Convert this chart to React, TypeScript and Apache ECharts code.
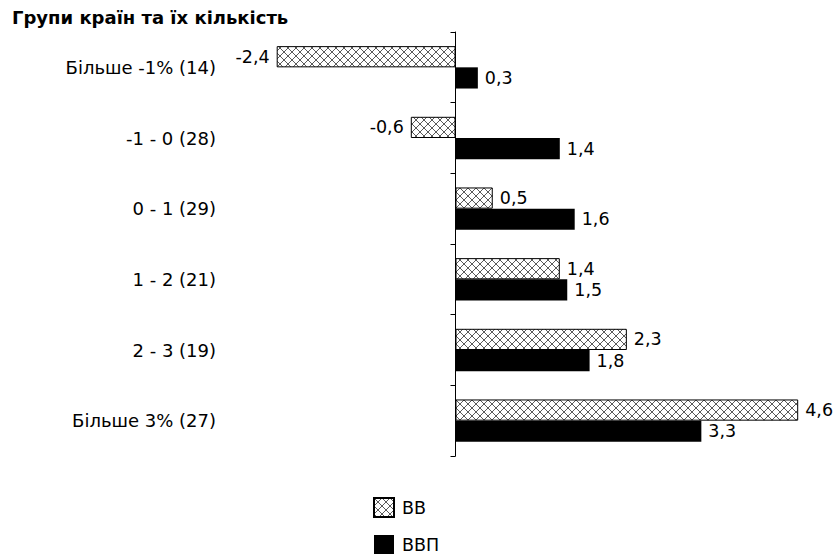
import React, { useEffect, useRef } from "react";
import * as echarts from "echarts";

const categories = ["Більше -1% (14)", "-1 - 0 (28)", "0 - 1 (29)", "1 - 2 (21)", "2 - 3 (19)", "Більше 3% (27)"];
const seriesNames = ["ВВ", "ВВП"];
const valuesVV = [-2.4, -0.6, 0.5, 1.4, 2.3, 4.6];
const valuesVVP = [0.3, 1.4, 1.6, 1.5, 1.8, 3.3];
const titleText = "Групи країн та їх кількість";

function makeHatch(): HTMLCanvasElement {
  const c = document.createElement("canvas");
  c.width = 8;
  c.height = 8;
  const ctx = c.getContext("2d")!;
  ctx.fillStyle = "#ffffff";
  ctx.fillRect(0, 0, 8, 8);
  ctx.strokeStyle = "#5a5a5a";
  ctx.lineWidth = 1;
  ctx.beginPath();
  ctx.moveTo(0, 0);
  ctx.lineTo(8, 8);
  ctx.moveTo(8, 0);
  ctx.lineTo(0, 8);
  ctx.stroke();
  return c;
}

const fmt = (p: any) => String(p.value).replace(".", ",");

const toData = (vals: number[]) =>
  vals.map((v) => ({ value: v, label: { position: v < 0 ? "left" : "right" } }));

export default function App() {
  const ref = useRef<HTMLDivElement>(null);
  useEffect(() => {
    document.body.style.margin = "0";
    if (!ref.current) return;
    const chart = echarts.init(ref.current, null, { renderer: "svg" });
    const hatch = makeHatch();
    const font = "DejaVu Sans, sans-serif";
    chart.setOption({
      animation: false,
      backgroundColor: "#ffffff",
      textStyle: { fontFamily: font },
      title: {
        text: titleText,
        left: 12,
        top: 8,
        padding: 0,
        textStyle: { fontSize: 18, fontWeight: "bold", color: "#000", fontFamily: font },
      },
      legend: {
        orient: "vertical",
        left: 373,
        top: 497,
        padding: 0,
        itemWidth: 20,
        itemHeight: 19,
        itemGap: 17,
        icon: "rect",
        textStyle: { fontSize: 17.5, color: "#000", fontFamily: font, padding: [0, 0, 0, 3] },
        data: seriesNames,
      },
      grid: { left: 232, right: 9, top: 32, bottom: 98, containLabel: false },
      xAxis: {
        type: "value",
        min: -3,
        max: 5,
        show: false,
        splitLine: { show: false },
      },
      yAxis: [
        {
          type: "category",
          data: categories,
          inverse: true,
          position: "left",
          axisLine: { show: false, onZero: false },
          axisTick: { show: false },
          axisLabel: { fontSize: 18, color: "#000", margin: 16, fontFamily: font },
        },
        {
          type: "category",
          data: categories,
          inverse: true,
          position: "left",
          axisLine: { show: true, onZero: true, lineStyle: { color: "#000", width: 1 } },
          axisTick: { show: true, length: 5, lineStyle: { color: "#000" } },
          axisLabel: { show: false },
        },
      ],
      series: [
        {
          name: seriesNames[0],
          type: "bar",
          yAxisIndex: 0,
          data: toData(valuesVV),
          barGap: "0%",
          barCategoryGap: "40%",
          itemStyle: {
            color: { image: hatch, repeat: "repeat" },
            borderColor: "#000",
            borderWidth: 1,
          },
          label: { show: true, formatter: fmt, fontSize: 17.5, color: "#000", distance: 7, fontFamily: font },
        },
        {
          name: seriesNames[1],
          type: "bar",
          yAxisIndex: 0,
          data: toData(valuesVVP),
          barGap: "0%",
          barCategoryGap: "40%",
          itemStyle: { color: "#000" },
          label: { show: true, formatter: fmt, fontSize: 17.5, color: "#000", distance: 7, fontFamily: font },
        },
      ],
    });
    return () => chart.dispose();
  }, []);
  return <div ref={ref} style={{ width: 837, height: 554 }} />;
}
